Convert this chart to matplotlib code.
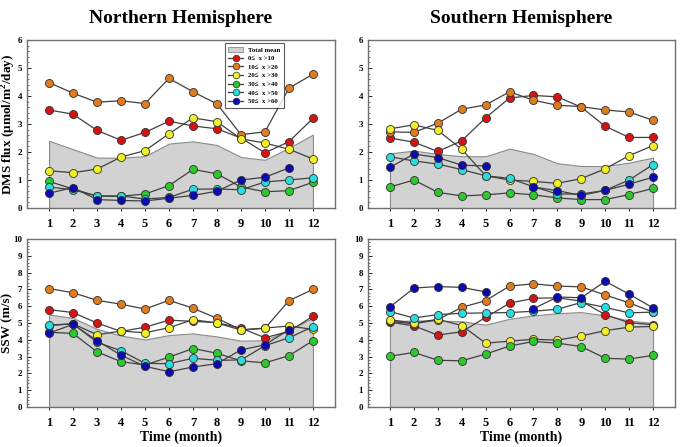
import numpy as np
import matplotlib
matplotlib.use("Agg")
import matplotlib.pyplot as plt
from matplotlib.patches import Patch
from matplotlib.lines import Line2D
from matplotlib.ticker import MultipleLocator

plt.rcParams['font.family'] = ['Liberation Serif', 'DejaVu Serif']
plt.rcParams['mathtext.fontset'] = 'custom'
plt.rcParams['mathtext.rm'] = 'Liberation Serif'
plt.rcParams['mathtext.bf'] = 'Liberation Serif:bold'

nan = np.nan
months = np.arange(1, 13)
bands = ['0\u2264  x >10', '10\u2264  x >20', '20\u2264  x >30',
         '30\u2264  x >40', '40\u2264  x >50', '50\u2264  x >60']
colors = ['#d41414', '#e07c20', '#f2ef2a', '#2ec82e', '#2adcdc', '#0a0ab0']

# DMS flux, Northern Hemisphere
nh_dms_mean = [2.4, 2.1, 1.8, 1.8, 1.85, 2.3, 2.38, 2.25, 1.82, 1.72, 2.15, 2.62]
nh_dms = [
    [3.5, 3.35, 2.77, 2.42, 2.7, 3.1, 2.93, 2.83, 2.5, 1.97, 2.37, 3.2],
    [4.48, 4.1, 3.78, 3.83, 3.73, 4.63, 4.15, 3.72, 2.62, 2.72, 4.28, 4.78],
    [1.33, 1.26, 1.39, 1.82, 2.05, 2.65, 3.22, 3.08, 2.47, 2.32, 2.1, 1.75],
    [0.95, 0.68, 0.42, 0.42, 0.5, 0.8, 1.38, 1.22, 0.75, 0.58, 0.62, 0.92],
    [0.75, 0.65, 0.43, 0.43, 0.32, 0.38, 0.67, 0.68, 0.65, 0.93, 1.0, 1.08],
    [0.53, 0.73, 0.3, 0.27, 0.25, 0.35, 0.45, 0.6, 1.0, 1.1, 1.43, nan],
]

# DMS flux, Southern Hemisphere
sh_dms_mean = [1.95, 2.05, 1.93, 1.85, 1.85, 2.12, 1.93, 1.6, 1.5, 1.5, 1.62, 1.8]
sh_dms = [
    [2.5, 2.35, 2.02, 2.4, 3.22, 3.93, 4.02, 3.97, 3.6, 2.92, 2.52, 2.52],
    [2.72, 2.7, 3.03, 3.53, 3.68, 4.15, 3.85, 3.67, 3.62, 3.5, 3.43, 3.13],
    [2.83, 2.97, 2.77, 2.1, 1.15, 1.0, 0.95, 0.88, 1.05, 1.4, 1.87, 2.23],
    [0.75, 1.0, 0.56, 0.43, 0.47, 0.54, 0.47, 0.36, 0.3, 0.3, 0.48, 0.7],
    [1.83, 1.68, 1.57, 1.37, 1.15, 1.06, 0.76, 0.5, 0.5, 0.63, 1.0, 1.55],
    [1.45, 1.93, 1.8, 1.53, 1.5, nan, 0.75, 0.62, 0.45, 0.63, 0.85, 1.1],
]

# SSW, Northern Hemisphere
nh_ssw_mean = [5.5, 5.3, 4.65, 4.25, 4.02, 4.28, 4.38, 4.2, 3.95, 3.97, 4.6, 5.3]
nh_ssw = [
    [5.8, 5.62, 5.0, 4.5, 4.75, 5.17, 5.1, 5.02, 4.7, 4.12, 4.5, 5.4],
    [7.05, 6.8, 6.35, 6.12, 5.83, 6.35, 5.88, 5.28, 4.6, 4.68, 6.33, 7.0],
    [4.85, 4.95, 4.3, 4.52, 4.42, 4.72, 5.2, 5.0, 4.58, 4.7, 4.82, 4.62],
    [4.45, 4.38, 3.28, 2.7, 2.5, 2.97, 3.48, 3.2, 2.75, 2.63, 3.05, 3.95],
    [4.88, 4.95, 3.85, 3.35, 2.6, 2.58, 2.9, 2.78, 2.8, 3.65, 4.12, 4.78],
    [4.4, 4.92, 3.95, 3.08, 2.42, 2.1, 2.38, 2.58, 3.4, 3.7, 4.6, nan],
]

# SSW, Southern Hemisphere
sh_ssw_mean = [5.1, 5.15, 5.15, 5.1, 4.9, 5.25, 5.45, 5.58, 5.65, 5.45, 5.15, 5.0]
sh_ssw = [
    [5.05, 4.83, 4.28, 4.48, 5.33, 6.18, 6.47, 6.5, 6.3, 5.5, 5.02, 4.9],
    [5.1, 4.95, 5.2, 5.93, 6.33, 7.2, 7.33, 7.2, 7.15, 6.67, 6.2, 5.65],
    [5.2, 5.0, 5.22, 4.85, 3.8, 3.92, 4.03, 3.98, 4.23, 4.55, 4.75, 4.8],
    [3.02, 3.25, 2.78, 2.75, 3.15, 3.63, 3.9, 3.8, 3.6, 2.9, 2.85, 3.08],
    [5.68, 5.3, 5.5, 5.58, 5.6, 5.62, 5.7, 5.82, 6.22, 5.93, 5.6, 5.65],
    [5.95, 7.08, 7.17, 7.12, 6.85, nan, 5.85, 6.55, 6.5, 7.48, 6.72, 5.9],
]

fig = plt.figure(figsize=(6.83, 4.47), dpi=100)
W, H = 683, 447
boxes = [(27, 40, 335, 208), (368, 40, 675, 208),
         (27, 239, 335, 407), (368, 239, 675, 407)]
panels = [(nh_dms_mean, nh_dms, 6), (sh_dms_mean, sh_dms, 6),
          (nh_ssw_mean, nh_ssw, 10), (sh_ssw_mean, sh_ssw, 10)]

axes = []
for (x0, y0, x1, y1), (mean, series, ymax) in zip(boxes, panels):
    ax = fig.add_axes([x0 / W, 1 - y1 / H, (x1 - x0) / W, (y1 - y0) / H])
    ax.fill_between(months, 0, mean, color='#d2d2d2', edgecolor='#8a8a8a', lw=0.8, zorder=1)
    for vals, c in zip(series, colors):
        ax.plot(months, vals, '-', color='#404040', lw=0.9, zorder=2)
        ax.plot(months, vals, 'o', ms=5.8, mfc=c, mec='#303030', mew=0.6, zorder=3)
    ax.set_xlim(0.08, 12.92)
    ax.set_ylim(0, ymax)
    ax.set_xticks(months)
    ax.set_yticks(np.arange(0, ymax + 1, 1))
    ax.yaxis.set_minor_locator(MultipleLocator(0.2))
    ax.tick_params(axis='y', direction='in', length=3, width=0.6, labelsize=6.5, pad=3.5)
    ax.tick_params(axis='y', which='minor', direction='in', length=1.5, width=0.4)
    ax.tick_params(axis='x', direction='out', length=2, width=0.6, labelsize=9, pad=5)
    for lab in ax.get_xticklabels() + ax.get_yticklabels():
        lab.set_fontweight('bold')
    for s in ax.spines.values():
        s.set_color('#707070')
        s.set_linewidth(1.0)
    axes.append(ax)

axes[0].set_title('Northern Hemisphere', fontsize=14, fontweight='bold', pad=12)
axes[1].set_title('Southern Hemisphere', fontsize=14, fontweight='bold', pad=12)
axes[0].set_ylabel(r'DMS flux ($\mathbf{\mu}$mol/m$^{\mathbf{2}}$/day)', fontsize=9.5, fontweight='bold', labelpad=0)
axes[2].set_ylabel('SSW (m/s)', fontsize=9.5, fontweight='bold', labelpad=0)
axes[2].set_xlabel('Time (month)', fontsize=10, fontweight='bold', labelpad=1)
axes[3].set_xlabel('Time (month)', fontsize=10, fontweight='bold', labelpad=1)

handles = [Patch(facecolor='#d2d2d2', edgecolor='#8a8a8a', lw=0.6)]
handles += [Line2D([], [], color='#404040', lw=0.9, marker='o', ms=4.8, mfc=c, mec='#303030', mew=0.5)
            for c in colors]
leg = axes[0].legend(handles, ['Total mean'] + bands, loc='upper left',
                     bbox_to_anchor=(0.632, 1.0), frameon=True,
                     fancybox=False, edgecolor='#303030', handlelength=2.2,
                     handletextpad=0.7, labelspacing=0.42, borderpad=0.5,
                     prop={'weight': 'bold', 'size': 4.9})
leg.get_frame().set_linewidth(0.8)
leg.set_zorder(5)

fig.savefig('out.png', dpi=100)
